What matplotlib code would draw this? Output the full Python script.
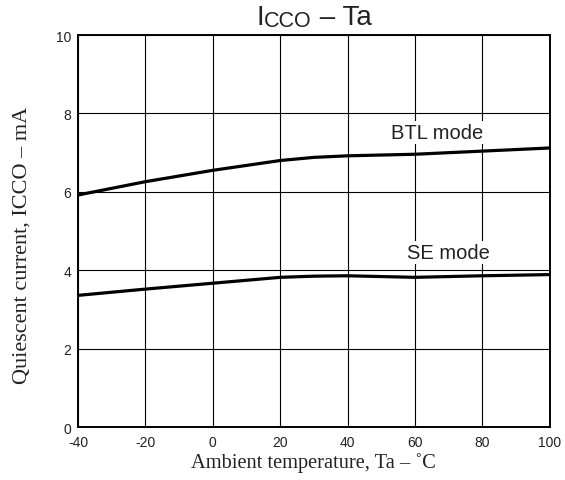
import matplotlib.pyplot as plt
from matplotlib.transforms import IdentityTransform

# temperature (deg C) vs quiescent current (mA)
temps = [-40, -20, 0, 20, 30, 40, 60, 80, 100]
btl_mode = [5.92, 6.26, 6.55, 6.80, 6.88, 6.92, 6.96, 7.04, 7.12]
se_mode = [3.36, 3.52, 3.67, 3.82, 3.85, 3.86, 3.82, 3.86, 3.89]

x_ticks = [-40, -20, 0, 20, 40, 60, 80, 100]
y_ticks = [0, 2, 4, 6, 8, 10]

# title pieces: text, size, baseline shift (px)
title_parts = [("I", 20, 0), ("CCO", 15.5, -1.7), (" – Ta", 20, 0)]

sans = ["Liberation Sans", "DejaVu Sans"]
serif = ["Liberation Serif", "DejaVu Serif"]
ink = "#222222"

plt.rcParams["axes.unicode_minus"] = False

fig = plt.figure(figsize=(5.65, 4.81), dpi=100)
ax = fig.add_axes([0.138, 0.110, 0.835, 0.815])

ax.plot(temps, btl_mode, color="black", lw=2.3, zorder=3)
ax.plot(temps, se_mode, color="black", lw=2.3, zorder=3)

ax.set_xlim(-40, 100)
ax.set_ylim(0, 10)
ax.set_xticks(x_ticks)
ax.set_yticks(y_ticks)
ax.grid(True, color="black", lw=0.8)
ax.tick_params(length=0, pad=4, labelsize=10, colors=ink)
ax.tick_params(axis="x", pad=6)
ax.tick_params(axis="y", pad=5)
for lbl in ax.get_xticklabels() + ax.get_yticklabels():
    lbl.set_family(sans)
for s in ax.spines.values():
    s.set_linewidth(1.4)

box = dict(facecolor="white", edgecolor="none", pad=1.5)
ax.text(66.5, 7.52, "BTL mode", ha="center", va="center", fontsize=14.5,
        family=sans, color=ink, bbox=box, zorder=4)
ax.text(70, 4.46, "SE mode", ha="center", va="center", fontsize=14.5,
        family=sans, color=ink, bbox=box, zorder=4)

ax.set_xlabel("Ambient temperature, Ta – ˚C", fontsize=14.7, family=serif,
              color=ink, labelpad=2)
ax.set_ylabel("Quiescent current, ICCO – mA", fontsize=16,
              family=serif, color=ink)
ax.yaxis.set_label_coords(-0.098, 0.467)

# title built from pieces so CCO is a little smaller and lower
renderer = fig.canvas.get_renderer()
pieces = [fig.text(0, 0, s, fontsize=sz, family=sans, color=ink,
                   va="baseline", ha="left", transform=IdentityTransform())
          for s, sz, _ in title_parts]
widths = [t.get_window_extent(renderer).width for t in pieces]
bb = ax.get_window_extent(renderer)
x = (bb.x0 + bb.x1) / 2 - sum(widths) / 2
base = fig.bbox.height - 25
for t, w, (_, _, dy) in zip(pieces, widths, title_parts):
    t.set_position((x, base + dy))
    x += w

fig.savefig("out.png", dpi=100)
